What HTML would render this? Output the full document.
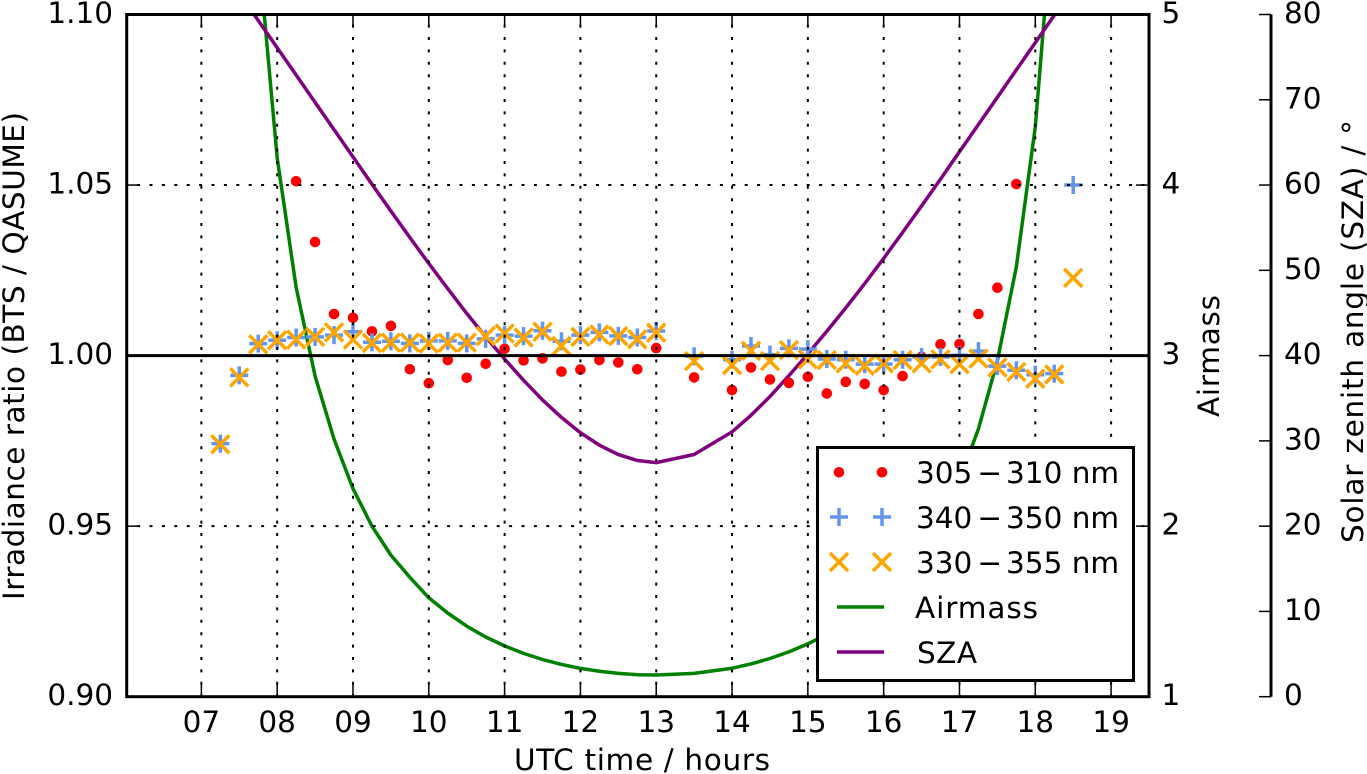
<!DOCTYPE html>
<html lang="en">
<head>
<meta charset="utf-8">
<title>Irradiance ratio chart</title>
<style>
html,body{margin:0;padding:0;background:#fff;}
svg{display:block;}
text{font-family:"DejaVu Sans","Liberation Sans",sans-serif;font-size:29.5px;fill:#000;}
</style>
</head>
<body>
<svg id="chart" xmlns="http://www.w3.org/2000/svg" width="1367" height="774" viewBox="0 0 1367 774">
  <defs>
    <clipPath id="plot-clip"><rect x="126.7" y="14.5" width="1022.3" height="682.2"/></clipPath>
  </defs>
  <rect x="0" y="0" width="1367" height="774" fill="#fff"/>
  <g id="plot" clip-path="url(#plot-clip)"></g>
  <g id="axes"></g>
  <text x="642" y="770" text-anchor="middle" textLength="256" lengthAdjust="spacing">UTC time / hours</text>
  <text transform="translate(24 356) rotate(-90)" text-anchor="middle" textLength="488" lengthAdjust="spacing">Irradiance ratio (BTS / QASUME)</text>
  <text transform="translate(1219 356) rotate(-90)" text-anchor="middle" textLength="122" lengthAdjust="spacing">Airmass</text>
  <text transform="translate(1363 331.5) rotate(-90)" text-anchor="middle" textLength="423" lengthAdjust="spacing">Solar zenith angle (SZA) / °</text>
  <g>
    <rect x="817.5" y="447.5" width="316" height="233" fill="#fff" stroke="#000" stroke-width="3"/>
    <g>
      <circle cx="839" cy="472.3" r="5.3" fill="#ff0000"/><circle cx="882" cy="472.3" r="5.3" fill="#ff0000"/>
      <text x="916" y="483">305<tspan dx="5">−</tspan><tspan dx="4">310 nm</tspan></text>
    </g>
    <g stroke="#6495ed" stroke-width="3.5" fill="none">
      <path d="M830 517H848M839 508V526M873 517H891M882 508V526"/>
      <text x="916" y="528" stroke="none">340<tspan dx="5">−</tspan><tspan dx="4">350 nm</tspan></text>
    </g>
    <g stroke="#ffa500" stroke-width="3.5" fill="none">
      <path d="M830 553L848 571M830 571L848 553M873 553L891 571M873 571L891 553"/>
      <text x="916" y="573" stroke="none">330<tspan dx="5">−</tspan><tspan dx="4">355 nm</tspan></text>
    </g>
    <g>
      <line x1="837" y1="607" x2="884" y2="607" stroke="#008000" stroke-width="3.5"/>
      <text x="915" y="618" textLength="123" lengthAdjust="spacing">Airmass</text>
    </g>
    <g>
      <line x1="837" y1="652" x2="884" y2="652" stroke="#800080" stroke-width="3.5"/>
      <text x="917" y="663" textLength="60" lengthAdjust="spacing">SZA</text>
    </g>
  </g>
</svg>
<script>
const xTickValues = [7,8,9,10,11,12,13,14,15,16,17,18,19];
const xTickLabels = ['07','08','09','10','11','12','13','14','15','16','17','18','19'];
const yTickValues = [0.90,0.95,1.00,1.05,1.10];
const yTickLabels = ['0.90','0.95','1.00','1.05','1.10'];
const airmassTicks = [1,2,3,4,5];
const szaTicks = [0,10,20,30,40,50,60,70,80];

const redTimes = [8.25,8.5,8.75,9,9.25,9.5,9.75,10,10.25,10.5,10.75,11,11.25,11.5,11.75,12,12.25,12.5,12.75,13,13.5,14,14.25,14.5,14.75,15,15.25,15.5,15.75,16,16.25,16.5,16.75,17,17.25,17.5,17.75];
const redValues = [1.0511,1.0333,1.0122,1.0111,1.0071,1.0087,0.996,0.9919,0.9987,0.9935,0.9976,1.002,0.9986,0.9992,0.9953,0.9959,0.9987,0.998,0.996,1.0022,0.9936,0.9899,0.9965,0.993,0.992,0.9938,0.9889,0.9923,0.9917,0.9899,0.994,0.9996,1.0033,1.0034,1.0122,1.0199,1.0503];

const bandTimes = [7.25,7.5,7.75,8,8.25,8.5,8.75,9,9.25,9.5,9.75,10,10.25,10.5,10.75,11,11.25,11.5,11.75,12,12.25,12.5,12.75,13,13.5,14,14.25,14.5,14.75,15,15.25,15.5,15.75,16,16.25,16.5,16.75,17,17.25,17.5,17.75,18,18.25,18.5];
const blueValues = [0.9742,0.9942,1.0035,1.0045,1.0053,1.0055,1.006,1.007,1.0039,1.0042,1.0036,1.0043,1.0043,1.0036,1.0049,1.006,1.0057,1.0073,1.0042,1.006,1.0068,1.0058,1.0053,1.0072,0.9998,0.9988,1.0028,1.0003,1.0021,1.0019,0.999,0.9988,0.9975,0.9975,0.9988,0.9996,0.9996,1.0001,1.0013,0.9969,0.9957,0.9944,0.9947,1.05];
const orangeValues = [0.974,0.9936,1.0033,1.0045,1.0047,1.0055,1.0068,1.0047,1.0037,1.0038,1.0038,1.0035,1.0038,1.0038,1.0057,1.0065,1.0053,1.007,1.0028,1.0055,1.0062,1.0057,1.0048,1.0067,0.9984,0.9972,1.0014,0.9984,1.0016,0.9989,0.9987,0.9977,0.997,0.9977,0.9987,0.9977,0.9989,0.9975,0.9991,0.9965,0.9952,0.9932,0.9945,1.0228];

const curveTimes = [7.5,7.75,8,8.25,8.5,8.75,9,9.25,9.5,9.75,10,10.25,10.5,10.75,11,11.25,11.5,11.75,12,12.25,12.5,12.75,13,13.5,14,14.25,14.5,14.75,15,15.25,15.5,15.75,16,16.25,16.5,16.75,17,17.25,17.5,17.75,18,18.25,18.5];
const airmassValues = [7.66,5.39,4.16,3.40,2.88,2.51,2.22,2.00,1.83,1.70,1.58,1.49,1.414,1.35,1.298,1.254,1.218,1.189,1.166,1.149,1.137,1.129,1.127,1.137,1.167,1.192,1.224,1.263,1.31,1.365,1.429,1.508,1.602,1.72,1.864,2.04,2.27,2.57,2.97,3.52,4.34,5.7,8.3];
const szaValues = [82.5,79.3,76.1,72.9,69.7,66.5,63.3,60.1,56.95,53.85,50.8,47.85,44.95,42.2,39.6,37.1,34.8,32.75,30.95,29.5,28.4,27.7,27.45,28.4,31.05,33,35.2,37.65,40.2,42.85,45.6,48.45,51.4,54.45,57.55,60.7,63.9,67.1,70.3,73.5,76.7,79.9,83.1];

const plotLeft = 126.7, plotRight = 1149, plotTop = 14.5, plotBottom = 696.7, outerAxisX = 1271;
const xDomain = [6.015, 19.5];
const yDomain = [0.90, 1.10];
const airmassDomain = [1, 5];
const szaDomain = [0, 80];

const NS = 'http://www.w3.org/2000/svg';
const xScale = t => plotLeft + (t - xDomain[0]) / (xDomain[1] - xDomain[0]) * (plotRight - plotLeft);
const linearY = (v, d) => plotBottom - (v - d[0]) / (d[1] - d[0]) * (plotBottom - plotTop);
const yRatio = v => linearY(v, yDomain);
const yAirmass = v => linearY(v, airmassDomain);
const ySza = v => linearY(v, szaDomain);

function make(parent, tag, attrs, text) {
  const el = document.createElementNS(NS, tag);
  for (const k in attrs) el.setAttribute(k, attrs[k]);
  if (text !== undefined) el.textContent = text;
  parent.appendChild(el);
  return el;
}

const plot = document.getElementById('plot');
const axes = document.getElementById('axes');

function polyline(times, values, yFn, color) {
  return make(plot, 'polyline', {
    points: times.map((t, i) => xScale(t).toFixed(2) + ',' + yFn(values[i]).toFixed(2)).join(' '),
    fill: 'none', stroke: color, 'stroke-width': 3.5, 'stroke-linejoin': 'round'
  });
}

const airmassLine = polyline(curveTimes, airmassValues, yAirmass, '#008000');


const szaLine = polyline(curveTimes, szaValues, ySza, '#800080');



redValues.forEach((v, i) => {
  const dot = make(plot, 'circle', {cx: xScale(redTimes[i]).toFixed(2), cy: yRatio(v).toFixed(2), r: 5.3, fill: '#ff0000'});
  
  
});

blueValues.forEach((v, i) => {
  const cx = xScale(bandTimes[i]), cy = yRatio(v);
  const plus = make(plot, 'path', {d: `M${cx-9} ${cy}H${cx+9}M${cx} ${cy-9}V${cy+9}`, stroke: '#6495ed', 'stroke-width': 3.5, fill: 'none'});
  
  
});

orangeValues.forEach((v, i) => {
  const cx = xScale(bandTimes[i]), cy = yRatio(v), s = 9;
  const cross = make(plot, 'path', {d: `M${cx-s} ${cy-s}L${cx+s} ${cy+s}M${cx-s} ${cy+s}L${cx+s} ${cy-s}`, stroke: '#ffa500', 'stroke-width': 3.5, fill: 'none'});
  
  
});

xTickValues.forEach(t => {
  const x = xScale(t);
  const grid = make(plot, 'line', {x1: x, y1: plotBottom, x2: x, y2: plotTop, stroke: '#000', 'stroke-width': 2, 'stroke-dasharray': '3 9.4', 'stroke-dashoffset': 0.5});
  
  
});
yTickValues.forEach(v => {
  if (v === 1.00 || v === yDomain[0] || v === yDomain[1]) return;
  const y = yRatio(v);
  const grid = make(plot, 'line', {x1: plotLeft, y1: y, x2: plotRight, y2: y, stroke: '#000', 'stroke-width': 2, 'stroke-dasharray': '3 9.4', 'stroke-dashoffset': 2});
  
  
});

const refLine = make(plot, 'line', {x1: plotLeft, y1: yRatio(1), x2: plotRight, y2: yRatio(1), stroke: '#000', 'stroke-width': 3});



const tickLen = 13;
xTickValues.forEach((t, i) => {
  const x = xScale(t);
  const tick = make(axes, 'path', {d: `M${x} ${plotBottom}V${plotBottom-tickLen}M${x} ${plotTop}V${plotTop+tickLen}`, stroke: '#000', 'stroke-width': 1.5, fill: 'none'});
  
  
  const label = make(axes, 'text', {x: x, y: 732, 'text-anchor': 'middle'}, xTickLabels[i]);
  
  
});
yTickValues.forEach((v, i) => {
  const y = yRatio(v);
  const tick = make(axes, 'line', {x1: plotLeft, y1: y, x2: plotLeft + tickLen, y2: y, stroke: '#000', 'stroke-width': 1.5});
  
  
  const label = make(axes, 'text', {x: 113, y: y + 8.5, 'text-anchor': 'end'}, yTickLabels[i]);
  
  
});
airmassTicks.forEach(v => {
  const y = yAirmass(v);
  const tick = make(axes, 'line', {x1: plotRight - tickLen, y1: y, x2: plotRight, y2: y, stroke: '#000', 'stroke-width': 1.5});
  
  
  const label = make(axes, 'text', {x: 1161.5, y: y + 8.5}, String(v));
  
  
});
szaTicks.forEach(v => {
  const y = ySza(v);
  const tick = make(axes, 'line', {x1: outerAxisX - 12, y1: y, x2: outerAxisX, y2: y, stroke: '#000', 'stroke-width': 1.5});
  
  
  const label = make(axes, 'text', {x: 1284, y: y + 8.5}, String(v));
  
  
});

const frame = make(axes, 'rect', {x: plotLeft, y: plotTop, width: plotRight - plotLeft, height: plotBottom - plotTop, fill: 'none', stroke: '#000', 'stroke-width': 3});


const outerSpine = make(axes, 'line', {x1: outerAxisX, y1: plotTop, x2: outerAxisX, y2: plotBottom, stroke: '#000', 'stroke-width': 3});


</script>
</body>
</html>
